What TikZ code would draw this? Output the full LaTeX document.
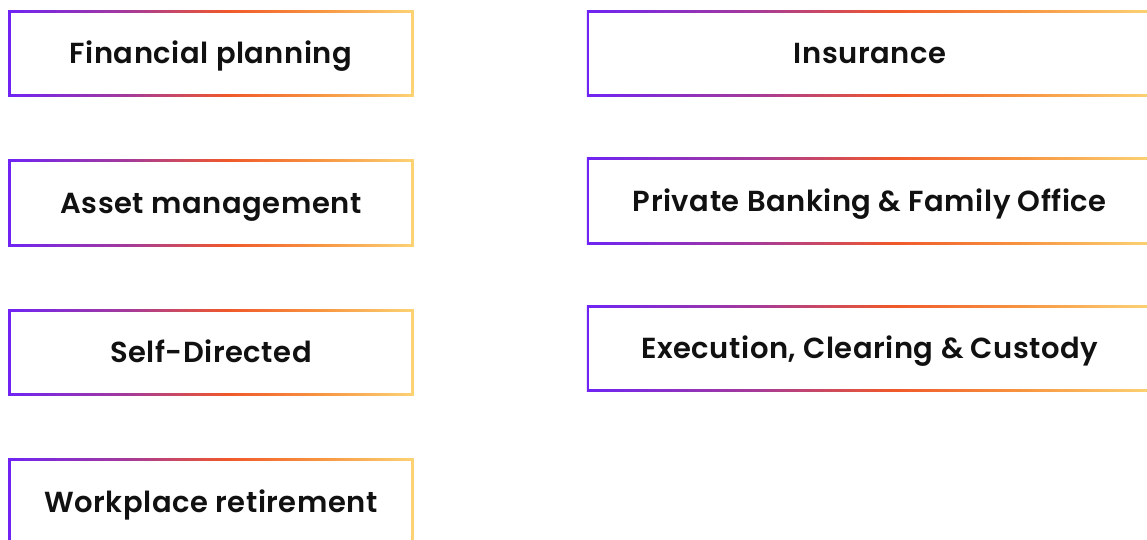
\documentclass[tikz,border=0pt]{standalone}
\usepackage{fontspec}
\setmainfont{Poppins}[BoldFont={* SemiBold}, LetterSpace=1.8]
\usepackage{tikz}
\usetikzlibrary{positioning}
\definecolor{brandpurple}{HTML}{6F24F4}
\definecolor{brandmagenta}{HTML}{A63A98}
\definecolor{brandorange}{HTML}{F0582A}
\definecolor{brandamber}{HTML}{F7923F}
\definecolor{brandyellow}{HTML}{FCD374}
\definecolor{cardtext}{HTML}{111111}
\pgfdeclarehorizontalshading{brand}{100bp}{color(0bp)=(brandpurple); color(25bp)=(brandpurple); color(40bp)=(brandmagenta); color(52bp)=(brandorange); color(63bp)=(brandamber); color(75bp)=(brandyellow); color(100bp)=(brandyellow)}
\newcommand\cardborder{0.05cm}
\newcommand\cardheight{1.73cm}
\tikzset{
    card/.style={minimum width=8.12cm, minimum height=\cardheight, inner sep=0pt,
        font=\fontsize{16.5}{19}\selectfont\bfseries, text=cardtext,
        text height=11.5pt, text depth=0pt,
        node distance=2.99cm and 13.18cm, on grid,
        path picture={
            \shade[shading=brand] (path picture bounding box.south west) rectangle (path picture bounding box.north east);
            \fill[white] ([shift={(\cardborder,\cardborder)}]path picture bounding box.south west) rectangle ([shift={(-\cardborder,-\cardborder)}]path picture bounding box.north east);
        }},
    widecard/.style={card, minimum width=11.32cm, node distance=2.95cm and 13.18cm},
}
\begin{document}
\begin{tikzpicture}[x=0.02cm, y=-0.02cm]
\clip (0,0) rectangle (1147,539);
\useasboundingbox (0,0) rectangle (1147,539);
% left column
\node[card] (finplan) at (211,53.5) {Financial planning};
\node[card, below=of finplan] (assetmgmt) {Asset management};
\node[card, below=of assetmgmt] (selfdir) {Self-Directed};
\node[card, below=of selfdir] (workplace) {Workplace retirement};
% right column
\node[widecard, right=of finplan] (insurance) {Insurance};
\node[widecard, below=of insurance] (privbank) {Private Banking \& Family Office};
\node[widecard, below=of privbank] (execution) {Execution, Clearing \& Custody};
\end{tikzpicture}
\end{document}
